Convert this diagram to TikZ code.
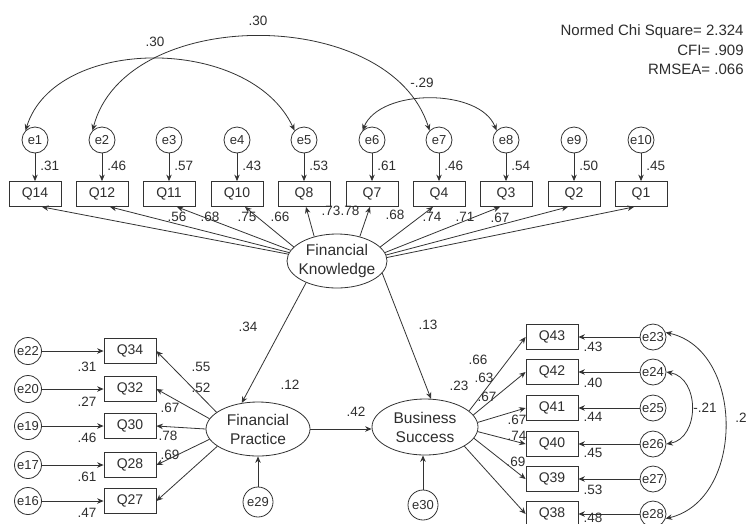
\documentclass[tikz,border=0pt]{standalone}
\usepackage{fontspec}
\setmainfont{Liberation Sans}
\usetikzlibrary{arrows.meta,calc,shapes.geometric}
\definecolor{ln}{HTML}{333333}
\definecolor{txt}{HTML}{2E2E2E}
\begin{document}
\begin{tikzpicture}[x=1pt,y=-1pt,
  line width=0.8pt,
  arr/.style={draw=ln, -{Stealth[length=6.5pt,width=5.5pt]}},
  biarr/.style={draw=ln, {Stealth[length=6.5pt,width=5.5pt]}-{Stealth[length=6.5pt,width=5.5pt]}},
  obs/.style={draw=ln, rectangle, minimum width=52pt, minimum height=25pt, inner sep=0pt, text=txt, font=\fontsize{14}{16}\selectfont},
  err/.style={draw=ln, circle, minimum size=26pt, inner sep=0pt, text=txt, font=\fontsize{13}{15}\selectfont},
  lat/.style={draw=ln, ellipse, inner sep=0pt},
  lattxt/.style={align=center, text=txt, inner sep=0pt, font=\fontsize{15.5}{19}\selectfont},
  lab/.style={text=txt, inner sep=0pt, font=\fontsize{13.5}{15}\selectfont},
  fitt/.style={text=txt, inner sep=0pt, anchor=east, font=\fontsize{15}{17}\selectfont}]
\useasboundingbox (0,0) rectangle (746,523);
\fill[white] (0,0) rectangle (746,523);

% fit statistics
\node[fitt] (fit1) at (744,32) {Normed Chi Square= 2.324};
\node[fitt] (fit2) at (744,50) {CFI= .909};
\node[fitt] (fit3) at (744,69) {RMSEA= .066};

% top indicators
\foreach \xx/\ee/\qq/\rr in {35/e1/Q14/.31, 102/e2/Q12/.46, 169/e3/Q11/.57, 237/e4/Q10/.43, 304/e5/Q8/.53, 372/e6/Q7/.61, 439/e7/Q4/.46, 506/e8/Q3/.54, 574/e9/Q2/.50, 641/e10/Q1/.45} {
  \node[err] (\ee) at (\xx,140) {\ee};
  \node[obs] (\qq) at (\xx,194) {\qq};
  \draw[arr] (\ee) -- (\qq);
  \node[lab,anchor=west] at (\xx+5,166) {\rr};
}

% Financial Knowledge
\node[lat, minimum width=100pt, minimum height=54pt, label={[lattxt]center:Financial\\Knowledge}] (fk) at (337,261) {};
\draw[arr] (fk.172) -- ($(Q14.south)+(7,0)$);
\draw[arr] (fk.170) -- ($(Q12.south)+(8,0)$);
\draw[arr] (fk.167) -- ($(Q11.south)+(8,0)$);
\draw[arr] (fk.162) -- ($(Q10.south)+(8,0)$);
\draw[arr] (fk.133) -- ($(Q8.south)+(2,0)$);
\draw[arr] (fk.47) -- ($(Q7.south)+(-2,0)$);
\draw[arr] (fk.18) -- ($(Q4.south)+(-6,0)$);
\draw[arr] (fk.10) -- ($(Q3.south)+(-6,0)$);
\draw[arr] (fk.7) -- ($(Q2.south)+(-6,0)$);
\draw[arr] (fk.4) -- ($(Q1.south)+(-7,0)$);
\node[lab] at (177,217) {.56};
\node[lab] at (210,217) {.68};
\node[lab] at (247,217) {.75};
\node[lab] at (280,217) {.66};
\node[lab] at (331,211) {.73};
\node[lab] at (350,211) {.78};
\node[lab] at (395,215) {.68};
\node[lab] at (432,217) {.74};
\node[lab] at (465,217) {.71};
\node[lab] at (500,218) {.67};

% top covariances
\draw[biarr] (e1.135) .. controls (55,35) and (250,35) .. (e5.135);
\draw[biarr] (e2.135) .. controls (125,5) and (390,5) .. (e7.135);
\draw[biarr] (e6.135) .. controls (380,88) and (480,88) .. (e8.135);
\node[lab] at (155,42) {.30};
\node[lab] at (258,21) {.30};
\node[lab] at (422,83) {-.29};

% Financial Practice
\node[lat, minimum width=104pt, minimum height=54pt, label={[lattxt]center:Financial\\Practice}] (fp) at (258,429) {};
\foreach \yy/\ee/\qq/\rr/\ly/\ang in {351/e22/Q34/.31/367/158, 389/e20/Q32/.27/402/168, 426/e19/Q30/.46/438/180, 465/e17/Q28/.61/477/192, 501/e16/Q27/.47/513/203} {
  \node[err, minimum size=27pt] (\ee) at (28,\yy) {\ee};
  \node[obs] (\qq) at (130,\yy) {\qq};
  \draw[arr] (\ee) -- (\qq);
  \node[lab] at (87,\ly) {\rr};
  \draw[arr] (fp.\ang) -- (\qq.east);
}
\node[lab] at (201,367) {.55};
\node[lab] at (201,388) {.52};
\node[lab] at (170,408) {.67};
\node[lab] at (168,436) {.78};
\node[lab] at (170,455) {.69};
\node[err, minimum size=30pt] (e29) at (258,502) {e29};
\draw[arr] (e29) -- (fp);
\node[lab] at (290,385) {.12};

% Business Success
\node[lat, minimum width=106pt, minimum height=56pt, label={[lattxt]center:Business\\Success}] (bs) at (425,427) {};
\foreach \yy/\ee/\qq/\rr/\ly/\ang in {337/e23/Q43/.43/347/20, 372/e24/Q42/.40/383/14, 408/e25/Q41/.44/417/5, 444/e26/Q40/.45/453/-5, 479/e27/Q39/.53/490/-13, 514/e28/Q38/.48/518/-26} {
  \node[err] (\ee) at (653,\yy) {\ee};
  \node[obs] (\qq) at (552,\yy) {\qq};
  \draw[arr] (\ee) -- (\qq);
  \node[lab] at (593,\ly) {\rr};
  \draw[arr] (bs.\ang) -- (\qq.west);
}
\node[lab] at (478,360) {.66};
\node[lab] at (484,378) {.63};
\node[lab] at (487,397) {.67};
\node[lab] at (517,420) {.67};
\node[lab] at (517,436) {.74};
\node[lab] at (516,462) {.69};
\node[lab] at (459,386) {.23};
\node[err, minimum size=30pt] (e30) at (423,505) {e30};
\draw[arr] (e30) -- (e30 |- bs.south);

% right covariances
\draw[biarr] (e24.east) .. controls (700,378) and (700,438) .. (e26.east);
\draw[biarr] (e23.20) .. controls (745,350) and (745,500) .. (e28.-20);
\node[lab] at (705,408) {-.21};
\node[lab,anchor=west] at (735,418) {.2};

% structural paths
\draw[arr] (fk.215) -- (fp.122);
\draw[arr] (fk.-15) -- (bs.78);
\draw[arr] (fp.east) -- (fp.east -| bs.west);
\node[lab] at (248,327) {.34};
\node[lab] at (428,325) {.13};
\node[lab] at (356,412) {.42};
\end{tikzpicture}
\end{document}
